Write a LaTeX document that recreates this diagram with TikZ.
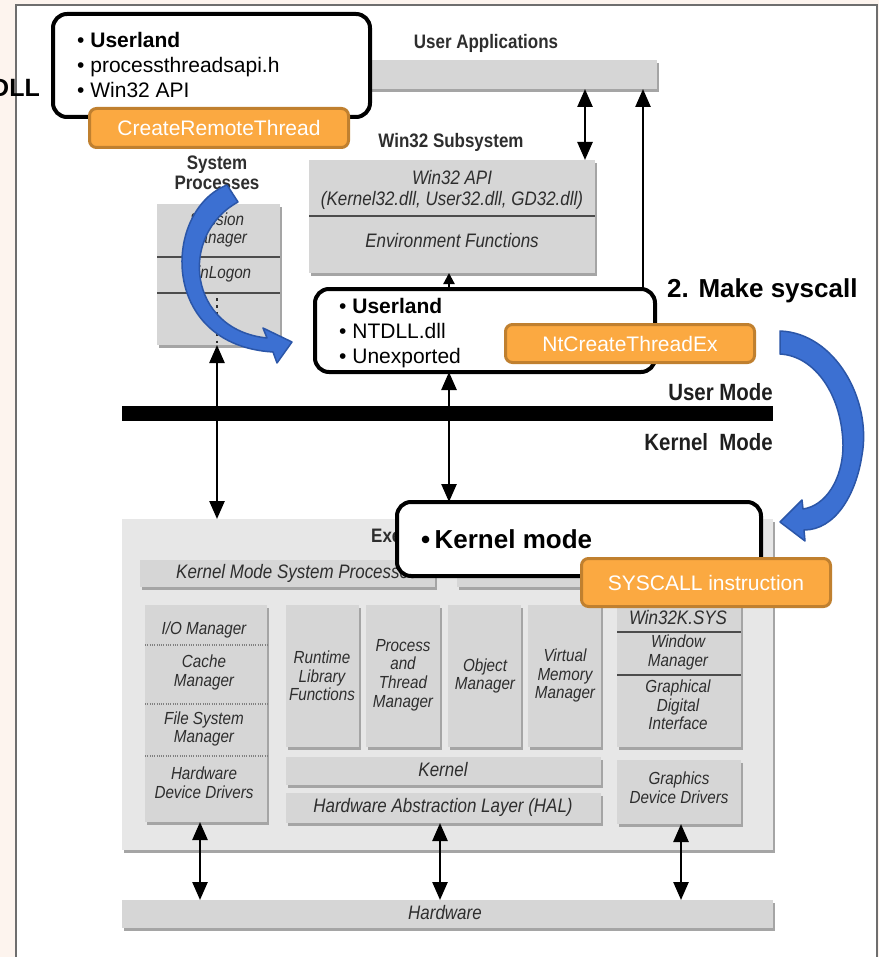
\documentclass[tikz,border=0pt]{standalone}
\usepackage{fontspec}
\setmainfont{Liberation Sans}
\newfontfamily\cnd[FakeStretch=0.87]{Liberation Sans}
\usetikzlibrary{arrows.meta,shadows,fit}
\definecolor{bgpink}{HTML}{FDF4EE}
\definecolor{framegray}{HTML}{6E6E6E}
\definecolor{boxgray}{HTML}{D6D6D6}
\definecolor{execgray}{HTML}{E7E7E7}
\definecolor{shadowgray}{HTML}{A5A5A5}
\definecolor{labelgray}{HTML}{2E2E2E}
\definecolor{orfill}{HTML}{FBA941}
\definecolor{ordraw}{HTML}{C0802F}
\definecolor{bluefill}{HTML}{3C70D2}
\definecolor{bluedraw}{HTML}{2B56A8}
\tikzset{
  gbox/.style={fill=boxgray, inner sep=0pt, outer sep=0pt,
    drop shadow={shadow xshift=1.5pt, shadow yshift=-3pt, fill=shadowgray, opacity=1}},
  wbox/.style={fill=white, draw=black, line width=4pt, rounded corners=14pt, inner sep=0pt, outer sep=0pt},
  obox/.style={fill=orfill, draw=ordraw, line width=3pt, rounded corners=7pt, text=white,
    font=\fontsize{21}{25}\selectfont, inner sep=0pt},
  hdr/.style={font=\cnd\bfseries\fontsize{19.5}{20}\selectfont, text=labelgray, inner sep=0pt, align=center},
  blab/.style={font=\cnd\itshape\fontsize{19.5}{20.5}\selectfont, text=labelgray, inner sep=0pt, align=center},
  slab/.style={font=\cnd\itshape\fontsize{17.5}{18.6}\selectfont, text=labelgray, inner sep=0pt, align=center},
  modelab/.style={font=\cnd\bfseries\fontsize{23.5}{25}\selectfont, text=black!88, inner sep=0pt, anchor=east},
  wtext/.style={font=\fontsize{21}{25}\selectfont, inner sep=0pt, anchor=base west},
  divider/.style={draw=black!70, line width=1.6pt},
  dotdiv/.style={draw=black!50, line width=1.4pt, dash pattern=on 1pt off 1.3pt},
  dblarr/.style={line width=2.5pt, {Triangle[length=18pt,width=15pt]}-{Triangle[length=18pt,width=15pt]}},
  uparr/.style={line width=2.5pt, -{Triangle[length=18pt,width=15pt]}},
  smallarr/.style={line width=2.2pt, -{Triangle[length=11pt,width=11pt]}},
  blue arrow/.style={fill=bluefill, draw=bluedraw, line width=1.5pt, line join=round}
}
\begin{document}
\begin{tikzpicture}[x=1pt,y=-1pt]
\useasboundingbox (0,0) rectangle (879,957);
% background and frame
\fill[bgpink] (0,0) rectangle (879,957);
\draw[framegray, line width=2pt, fill=white] (16,5) rectangle (877,975);

% helper coordinates for vertical connectors
\coordinate (a200) at (200,0);
\coordinate (a217) at (217,0);
\coordinate (a440) at (440,0);
\coordinate (a449) at (449,0);
\coordinate (a585) at (585,0);
\coordinate (a643) at (643,0);
\coordinate (a681) at (681,0);

% ---------- user mode part ----------
\node[gbox, fit={(300,60) (657,89)}] (userapps) {};
\node[hdr] (userappslbl) at (486,43) {User Applications};
\node[hdr] (win32lbl) at (451,142) {Win32 Subsystem};
\node[gbox, fit={(309,160) (595,273)}] (win32) {};
\draw[divider, line width=1.3pt] (win32.west |- 0,216) -- (win32.east |- 0,216);
\node[blab] (w32api) at (452,190) {Win32 API\\(Kernel32.dll, User32.dll, GD32.dll)};
\node[blab] (envf) at (452,241) {Environment Functions};

\node[hdr] (syslbl) at (217,173) {System\\Processes};
\node[gbox, fit={(157,204) (280,345)}] (sysproc) {};
\draw[divider] (sysproc.west |- 0,257) -- (sysproc.east |- 0,257);
\draw[divider] (sysproc.west |- 0,293) -- (sysproc.east |- 0,293);
\node[slab] (smgr) at (217,230) {Session\\Manager};
\node[slab] (winlogon) at (217,274) {WinLogon};
\draw[labelgray, line width=2.6pt, dash pattern=on 2.6pt off 4.5pt] (217,298) -- (217,343);

% ---------- executive ----------
\node[gbox, fill=execgray, fit={(122,519) (773,850)}] (exec) {};
\node[hdr, anchor=west] (execlbl) at (371,536) {Executive};
\node[gbox, fit={(140,560) (435,587)}] (kmsp) {};
\node[gbox, fit={(457,560) (757,587)}] (kmsp2) {};
\node[blab, anchor=west] (kmsplbl) at (176,573) {Kernel Mode System Processes};

\node[gbox, fit={(145,605) (267,822)}] (iocol) {};
\draw[dotdiv] (iocol.west |- 0,645) -- (iocol.east |- 0,645);
\draw[dotdiv] (iocol.west |- 0,704) -- (iocol.east |- 0,704);
\draw[dotdiv] (iocol.west |- 0,756) -- (iocol.east |- 0,756);
\node[slab] (iomgr) at (204,630) {I/O Manager};
\node[slab] (cmgr) at (204,672.5) {Cache\\Manager};
\node[slab] (fsmgr) at (204,729) {File System\\Manager};
\node[slab] (hdd) at (204,782.5) {Hardware\\Device Drivers};

\node[gbox, fit={(286,605) (359,747)}] (rtcol) {};
\node[slab] (rtlbl) at (322,676) {Runtime\\Library\\Functions};
\node[gbox, fit={(366,605) (440,747)}] (ptcol) {};
\node[slab] (ptlbl) at (403,675) {Process\\and\\Thread\\Manager};
\node[gbox, fit={(448,605) (521,747)}] (objcol) {};
\node[slab] (objlbl) at (485,676) {Object\\Manager};
\node[gbox, fit={(528,605) (601,747)}] (vmcol) {};
\node[slab] (vmlbl) at (565,675.5) {Virtual\\Memory\\Manager};
\node[gbox, fit={(617,605) (741,747)}] (w32k) {};
\draw[divider] (w32k.west |- 0,632) -- (w32k.east |- 0,632);
\draw[divider] (w32k.west |- 0,675) -- (w32k.east |- 0,675);
\node[blab] (w32klbl) at (678,618) {Win32K.SYS};
\node[slab] (wmlbl) at (678,652.5) {Window\\Manager};
\node[slab] (gdilbl) at (678,705) {Graphical\\Digital\\Interface};

\node[gbox, fit={(286,757) (601,785)}] (kern) {};
\node[blab] (kernlbl) at (443,770) {Kernel};
\node[gbox, fit={(286,793) (601,823)}] (hal) {};
\node[blab] (hallbl) at (443,807) {Hardware Abstraction Layer (HAL)};
\node[gbox, fit={(617,760) (741,824)}] (gdd) {};
\node[slab] (gddlbl) at (679,787.5) {Graphics\\Device Drivers};

\node[gbox, fit={(122,900) (773,928)}] (hw) {};
\node[blab] (hwlbl) at (445,913) {Hardware};

% ---------- mode bar ----------
\node[fill=black, inner sep=0pt, outer sep=0pt, fit={(122,406) (773,421)}] (umbar) {};
\node[modelab] (umlbl) at (773,392) {User Mode};
\node[modelab] (kmlbl) at (773,442) {Kernel\ \ Mode};

% ---------- overlay boxes ----------
\node[wbox, fit={(53,14) (370,117)}] (ul1) {};
\node[wtext] (ul1a) at (77,48) {•\ \textbf{Userland}};
\node[wtext] (ul1b) at (77,73) {•\ processthreadsapi.h};
\node[wtext] (ul1c) at (77,98) {•\ Win32 API};

\node[wbox, fit={(315,289) (655,372)}] (ntdll) {};
\node[wtext] (nt1) at (339,313) {•\ \textbf{Userland}};
\node[wtext] (nt2) at (339,338) {•\ NTDLL.dll};
\node[wtext] (nt3) at (339,363) {•\ Unexported};

\node[wbox, fit={(397,502) (761,576)}] (kbox) {};
\node[wtext, font=\bfseries\fontsize{26}{30}\selectfont] (kboxt) at (421,548) {•\,Kernel mode};

% ---------- connectors ----------
\draw[dblarr] (userapps.south -| a585) -- (win32.north -| a585);
\draw[uparr] (ntdll.north -| a643) -- (userapps.south -| a643);
\draw[smallarr] (ntdll.north -| a449) -- (win32.south -| a449);
\draw[dblarr] (sysproc.south -| a217) -- (exec.north -| a217);
\draw[dblarr] (ntdll.south -| a449) -- (kbox.north -| a449);
\draw[dblarr] (iocol.south -| a200) -- (hw.north -| a200);
\draw[dblarr] (hal.south -| a440) -- (hw.north -| a440);
\draw[dblarr] (gdd.south -| a681) -- (hw.north -| a681);

% ---------- orange labels ----------
\node[obox, minimum width=259pt, minimum height=39pt] (crt) at (219,128) {CreateRemoteThread};
\node[obox, minimum width=249pt, minimum height=38pt] (ntcte) at (630,343.5) {NtCreateThreadEx};
\node[obox, minimum width=249pt, minimum height=48pt] (sysc) at (706,582.5) {SYSCALL instruction};

% ---------- blue curved arrows ----------
\path[blue arrow] (227,185) .. controls (163,210) and (158,345) .. (273,352)
  -- (277,363) -- (292,342) -- (263,328) -- (267,338)
  .. controls (188,330) and (178,235) .. (238,202) -- cycle;
\path[blue arrow] (780,331) .. controls (835,333) and (872,400) .. (862,455)
  .. controls (856,495) and (835,530) .. (804,530)
  -- (805,541) -- (780,522) -- (802,500) -- (803,509)
  .. controls (825,506) and (843,480) .. (843,445)
  .. controls (842,395) and (815,356) .. (780,354) -- cycle;

% ---------- side texts ----------
\node[anchor=base west, inner sep=0pt, font=\bfseries\fontsize{26}{30}\selectfont] (mks) at (667,297) {2. Make syscall};
\node[anchor=base east, inner sep=0pt, font=\bfseries\fontsize{25}{30}\selectfont] (dll) at (40,97) {DLL};
\end{tikzpicture}
\end{document}
